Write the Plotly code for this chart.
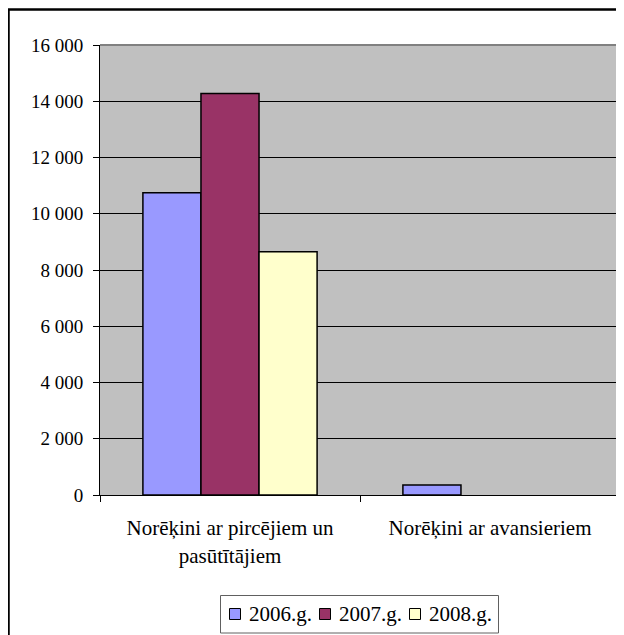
import plotly.graph_objects as go

categories = ["Norēķini ar pircējiem un<br>pasūtītājiem", "Norēķini ar avansieriem"]
series_names = ["2006.g.", "2007.g.", "2008.g."]
values_2006 = [10750, 355]
values_2007 = [14280, None]
values_2008 = [8650, None]
colors = ["#9999FF", "#993366", "#FFFFCC"]
tick_vals = [0, 2000, 4000, 6000, 8000, 10000, 12000, 14000, 16000]
tick_text = ["0", "2 000", "4 000", "6 000", "8 000", "10 000", "12 000", "14 000", "16 000"]

FONT = "Liberation Serif"

fig = go.Figure()
for name, vals, col in zip(series_names, [values_2006, values_2007, values_2008], colors):
    fig.add_trace(go.Bar(
        x=categories, y=vals, name=name,
        marker=dict(color=col, line=dict(color="black", width=1.5)),
        showlegend=False,
    ))

# page body has an 8px margin, so figure pixel = reference pixel - 8
OFF = 8
W, H = 624 - OFF, 635 - OFF
L, T = 100 - OFF, 45 - OFF
R = W - (620 - OFF)
B = H - (495 - OFF)
pw, ph = W - L - R, H - T - B

def px_x(p):
    return (p - OFF - L) / pw

def px_y(p):
    return (H - B - (p - OFF)) / ph

shapes = [
    dict(type="line", xref="paper", yref="paper", x0=0, x1=1, y0=1, y1=1,
         line=dict(color="#808080", width=2)),
    dict(type="line", xref="paper", yref="paper", x0=1, x1=1, y0=0, y1=1,
         line=dict(color="#808080", width=2)),
    dict(type="rect", xref="paper", yref="paper",
         x0=px_x(8.5), x1=px_x(660), y0=px_y(680), y1=px_y(9.5),
         line=dict(color="black", width=2.5), layer="above"),
    # legend box
    dict(type="rect", xref="paper", yref="paper",
         x0=px_x(220.5), x1=px_x(498.5), y0=px_y(633), y1=px_y(595.5),
         line=dict(color="#606060", width=1), fillcolor="white"),
]
annotations = []
step = 90
for i, (name, col) in enumerate(zip(series_names, colors)):
    sx = 229.5 + step * i
    shapes.append(dict(type="rect", xref="paper", yref="paper",
                       x0=px_x(sx), x1=px_x(sx + 11), y0=px_y(619.5), y1=px_y(608.5),
                       line=dict(color="black", width=1), fillcolor=col))
    annotations.append(dict(xref="paper", yref="paper", x=px_x(sx + 17), y=px_y(614),
                            xanchor="left", yanchor="middle", showarrow=False,
                            text=name, font=dict(family=FONT, size=21, color="black")))

fig.update_layout(
    width=W, height=H,
    margin=dict(l=L, r=R, t=T, b=B, pad=0),
    paper_bgcolor="white",
    plot_bgcolor="#C0C0C0",
    font=dict(family=FONT, size=20, color="black"),
    barmode="group",
    bargap=0.33,
    bargroupgap=0,
    showlegend=False,
    xaxis=dict(
        showgrid=False,
        showline=True, linecolor="black", linewidth=1,
        ticks="outside", ticklen=6, tickcolor="black",
        tickson="boundaries",
        tickfont=dict(family=FONT, size=21),
        ticklabelstandoff=14,
        zeroline=False,
    ),
    yaxis=dict(
        range=[0, 16000],
        tickvals=tick_vals, ticktext=tick_text,
        showgrid=True, gridcolor="black", gridwidth=1,
        showline=True, linecolor="black", linewidth=1,
        ticks="outside", ticklen=6, tickcolor="black",
        tickfont=dict(family=FONT, size=19),
        ticklabelstandoff=6,
        zeroline=False,
    ),
    shapes=shapes,
    annotations=annotations,
)

fig.write_html("out.html")
